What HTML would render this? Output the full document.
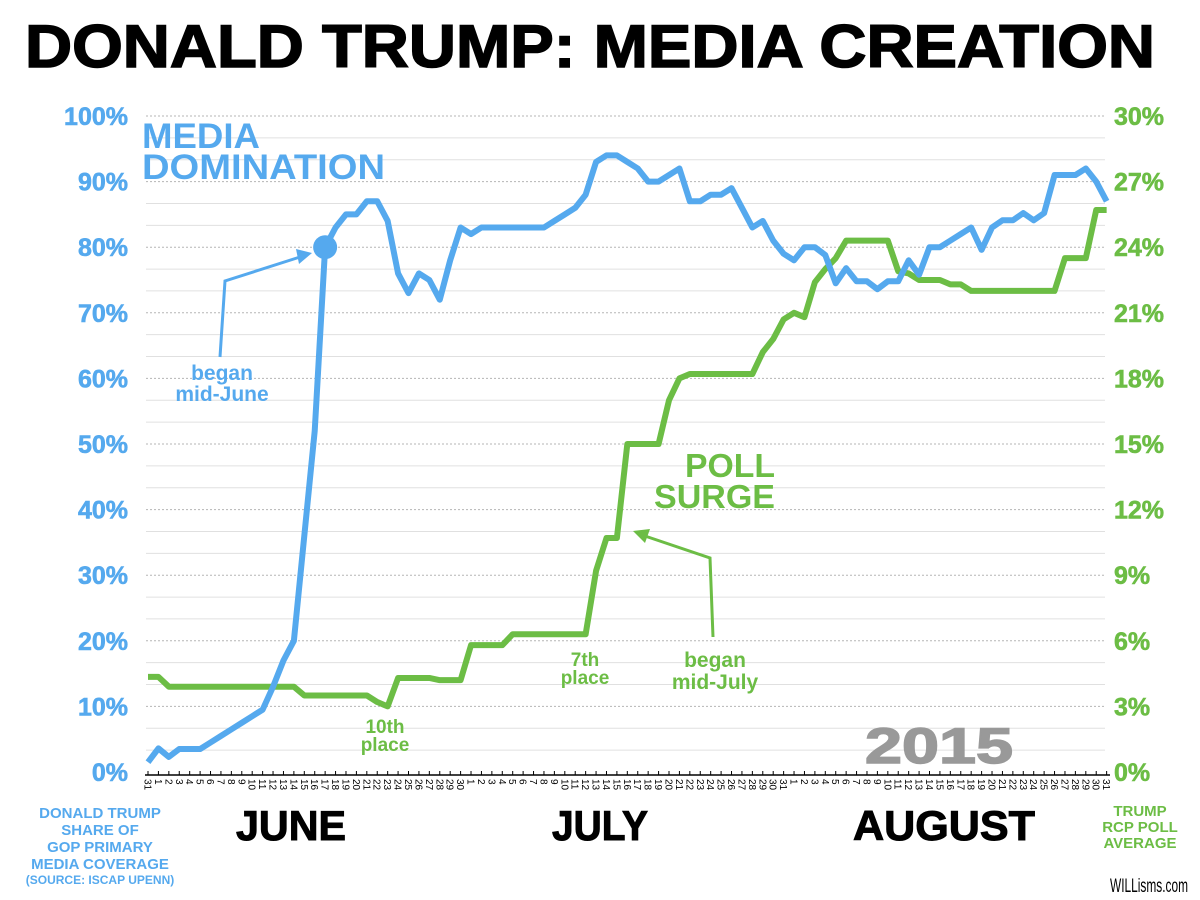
<!DOCTYPE html>
<html><head><meta charset="utf-8"><style>
html,body{margin:0;padding:0;background:#fff;}
svg{display:block;font-family:"Liberation Sans",sans-serif;}
</style></head><body>
<svg id="chart" width="1200" height="900" viewBox="0 0 1200 900">
<text x="590" y="67" text-anchor="middle" font-size="60" font-weight="bold" textLength="1130" lengthAdjust="spacingAndGlyphs" fill="#000" stroke="#000" stroke-width="1.5">DONALD TRUMP: MEDIA CREATION</text>
<g id="grid"></g>
<g id="yleft"></g>
<g id="yright"></g>
<g id="xaxis"></g>
<g id="series"></g>
<g>
<text x="142" y="148" font-size="35" font-weight="bold" fill="#55a9ee" textLength="118" lengthAdjust="spacingAndGlyphs">MEDIA</text>
<text x="142" y="179" font-size="35" font-weight="bold" fill="#55a9ee" textLength="243" lengthAdjust="spacingAndGlyphs">DOMINATION</text>
<text x="775" y="477" text-anchor="end" font-size="33" font-weight="bold" fill="#6cbd45" textLength="90" lengthAdjust="spacingAndGlyphs">POLL</text>
<text x="775" y="508" text-anchor="end" font-size="33" font-weight="bold" fill="#6cbd45" textLength="121" lengthAdjust="spacingAndGlyphs">SURGE</text>
<text x="222" y="380" text-anchor="middle" font-size="21" font-weight="bold" fill="#55a9ee">began</text>
<text x="222" y="401" text-anchor="middle" font-size="21" font-weight="bold" fill="#55a9ee">mid-June</text>
<polyline points="220,357 225,281 300,257" fill="none" stroke="#55a9ee" stroke-width="3"/>
<polygon points="312,253 296,249 299,264" fill="#55a9ee"/>
<text x="385" y="733" text-anchor="middle" font-size="19" font-weight="bold" fill="#6cbd45">10th</text>
<text x="385" y="751" text-anchor="middle" font-size="19" font-weight="bold" fill="#6cbd45">place</text>
<text x="585" y="666" text-anchor="middle" font-size="19" font-weight="bold" fill="#6cbd45">7th</text>
<text x="585" y="684" text-anchor="middle" font-size="19" font-weight="bold" fill="#6cbd45">place</text>
<text x="715" y="667" text-anchor="middle" font-size="21" font-weight="bold" fill="#6cbd45">began</text>
<text x="715" y="689" text-anchor="middle" font-size="21" font-weight="bold" fill="#6cbd45">mid-July</text>
<polyline points="713,637 710,558 642,535" fill="none" stroke="#6cbd45" stroke-width="3"/>
<polygon points="633,531 650,529 645,543" fill="#6cbd45"/>
<text x="939" y="763" text-anchor="middle" font-size="50" font-weight="bold" fill="#999" stroke="#999" stroke-width="1.5" textLength="148" lengthAdjust="spacingAndGlyphs">2015</text>
<text x="291" y="840" text-anchor="middle" font-size="42" font-weight="bold" fill="#000" stroke="#000" stroke-width="1" textLength="110" lengthAdjust="spacingAndGlyphs">JUNE</text>
<text x="600" y="840" text-anchor="middle" font-size="42" font-weight="bold" fill="#000" stroke="#000" stroke-width="1" textLength="96" lengthAdjust="spacingAndGlyphs">JULY</text>
<text x="944" y="840" text-anchor="middle" font-size="42" font-weight="bold" fill="#000" stroke="#000" stroke-width="1" textLength="182" lengthAdjust="spacingAndGlyphs">AUGUST</text>
<g font-size="15" font-weight="bold" fill="#55a9ee" text-anchor="middle">
<text x="100" y="818">DONALD TRUMP</text><text x="100" y="835">SHARE OF</text><text x="100" y="852">GOP PRIMARY</text><text x="100" y="869">MEDIA COVERAGE</text><text x="100" y="884" font-size="12">(SOURCE: ISCAP UPENN)</text>
</g>
<g font-size="15" font-weight="bold" fill="#6cbd45" text-anchor="middle">
<text x="1140" y="816">TRUMP</text><text x="1140" y="832">RCP POLL</text><text x="1140" y="848">AVERAGE</text>
</g>
<text x="1188" y="892" text-anchor="end" font-size="19" fill="#000" textLength="78" lengthAdjust="spacingAndGlyphs">WILLisms.com</text>
</g>
</svg>
<script>
const dayLabels = [31];
for (let d = 1; d <= 30; d++) dayLabels.push(d);
for (let d = 1; d <= 31; d++) dayLabels.push(d);
for (let d = 1; d <= 31; d++) dayLabels.push(d);
const leftTicks = ["0%","10%","20%","30%","40%","50%","60%","70%","80%","90%","100%"];
const rightTicks = ["0%","3%","6%","9%","12%","15%","18%","21%","24%","27%","30%"];
const mediaShare = [1.5,3.6,2.3,3.5,3.5,3.5,4.5,5.5,6.5,7.5,8.5,9.5,13,17,20,36,52,80,83,85,85,87,87,84,76,73,76,75,72,78,83,82,83,83,83,83,83,83,83,84,85,86,88,93,94,94,93,92,90,90,91,92,87,87,88,88,89,86,83,84,81,79,78,80,80,78.8,74.5,76.8,74.8,74.8,73.6,74.8,74.8,78,75.8,80,80,81,82,83,79.6,83,84.1,84.1,85.2,84.1,85.2,91,91,91,92,90,87];
const pollAvg = [4.35,4.35,3.9,3.9,3.9,3.9,3.9,3.9,3.9,3.9,3.9,3.9,3.9,3.9,3.9,3.5,3.5,3.5,3.5,3.5,3.5,3.5,3.2,3.0,4.3,4.3,4.3,4.3,4.2,4.2,4.2,5.8,5.8,5.8,5.8,6.3,6.3,6.3,6.3,6.3,6.3,6.3,6.3,9.2,10.7,10.7,15,15,15,15,17,18,18.2,18.2,18.2,18.2,18.2,18.2,18.2,19.2,19.8,20.7,21,20.8,22.4,23,23.5,24.3,24.3,24.3,24.3,24.3,22.9,22.8,22.5,22.5,22.5,22.3,22.3,22,22,22,22,22,22,22,22,22,23.5,23.5,23.5,25.7,25.7];
const NS = "http://www.w3.org/2000/svg";
const X0 = 148, STEP = 10.42, Y0 = 772, YTOP = 116;
const xPos = i => X0 + i * STEP;
const yLeft = v => Y0 - (Y0 - YTOP) * v / 100;
const yRight = v => Y0 - (Y0 - YTOP) * v / 30;
function mk(tag, attrs, parent) {
  const e = document.createElementNS(NS, tag);
  for (const k in attrs) e.setAttribute(k, attrs[k]);
  parent.appendChild(e);
  return e;
}
const grid = document.getElementById("grid");
for (let k = 1; k <= 30; k++) {
  const y = yRight(k);
  const g = mk("line", {x1: 146, x2: 1105, y1: y, y2: y, stroke: k % 3 === 0 ? "#b5b5b5" : "#e0e0e0", "stroke-width": 1, "stroke-dasharray": k % 3 === 0 ? "2,2" : "none"}, grid);
  
  
}
const yl = document.getElementById("yleft");
leftTicks.forEach((t, i) => {
  const e = mk("text", {x: 128, y: yLeft(i * 10) + 9, "text-anchor": "end", "font-size": 25, "font-weight": "bold", fill: "#55a9ee", stroke: "#55a9ee", "stroke-width": 0.6}, yl);
  e.textContent = t;
  
  
});
const yr = document.getElementById("yright");
rightTicks.forEach((t, i) => {
  const e = mk("text", {x: 1114, y: yRight(i * 3) + 9, "font-size": 25, "font-weight": "bold", fill: "#6cbd45", stroke: "#6cbd45", "stroke-width": 0.6}, yr);
  e.textContent = t;
  
  
});
const xa = document.getElementById("xaxis");
const ax = mk("line", {x1: 145, x2: 1110, y1: 775, y2: 775, stroke: "#000", "stroke-width": 1.5}, xa);


dayLabels.forEach((d, i) => {
  const x = xPos(i);
  const tk = mk("line", {x1: x, x2: x, y1: 771, y2: 775, stroke: "#000", "stroke-width": 1}, xa);
  
  
  const t = mk("text", {x: 0, y: 0, "font-size": 10, fill: "#000", transform: `translate(${x - 3.5},779) rotate(90)`}, xa);
  t.textContent = d;
  
  
});
const sg = document.getElementById("series");
const gl = mk("polyline", {points: pollAvg.map((v, i) => xPos(i) + "," + yRight(v)).join(" "), fill: "none", stroke: "#6cbd45", "stroke-width": 6, "stroke-linejoin": "round"}, sg);


const bl = mk("polyline", {points: mediaShare.map((v, i) => xPos(i) + "," + yLeft(v)).join(" "), fill: "none", stroke: "#55a9ee", "stroke-width": 6, "stroke-linejoin": "round"}, sg);


const dot = mk("circle", {cx: xPos(17), cy: yLeft(mediaShare[17]), r: 12, fill: "#55a9ee"}, sg);


</script>
</body></html>
